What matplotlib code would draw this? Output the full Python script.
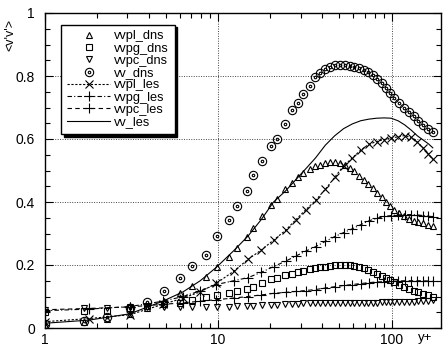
import numpy as np
import matplotlib
matplotlib.use("Agg")
import matplotlib.pyplot as plt
from matplotlib.path import Path
from matplotlib.ticker import LogLocator, MultipleLocator, NullFormatter, FixedLocator, FixedFormatter

plt.rcParams['font.family'] = ['Liberation Sans', 'DejaVu Sans']

# ---------------- data ----------------
dns_y = [1.0, 1.7, 2.3, 3.1, 3.9, 4.9, 6.0, 7.1, 8.5, 9.9, 11.5, 12.8, 14.6, 16.0,
         18.0, 20.2, 21.8, 24.4, 26.6, 28.8, 31.0, 33.8, 36.3, 38.9, 41.5, 44.5,
         47.5, 50.5, 54.0, 57.5, 61.0, 65.0, 69.0, 73.5, 78.0, 83.0, 88.0, 93.0,
         98.0, 104.0, 111.0, 118.0, 126.0, 134.0, 143.0, 152.0, 162.0, 173.0]

vv_dns = [0.012, 0.022, 0.036, 0.062, 0.082, 0.117, 0.160, 0.197, 0.233, 0.292,
          0.342, 0.387, 0.436, 0.485, 0.530, 0.579, 0.600, 0.647, 0.692, 0.713,
          0.742, 0.769, 0.796, 0.808, 0.822, 0.830, 0.834, 0.835, 0.834, 0.832,
          0.830, 0.826, 0.820, 0.812, 0.803, 0.790, 0.778, 0.762, 0.746, 0.730,
          0.714, 0.700, 0.686, 0.672, 0.656, 0.643, 0.632, 0.623]

vvpl_dns = [0.008, 0.018, 0.030, 0.045, 0.062, 0.085, 0.110, 0.134, 0.163, 0.195,
            0.226, 0.255, 0.290, 0.318, 0.355, 0.390, 0.410, 0.440, 0.460, 0.478,
            0.492, 0.505, 0.513, 0.518, 0.523, 0.526, 0.527, 0.525, 0.518, 0.508,
            0.497, 0.484, 0.470, 0.456, 0.443, 0.428, 0.415, 0.400, 0.388, 0.375,
            0.365, 0.355, 0.347, 0.341, 0.336, 0.332, 0.328, 0.325]

vvpg_dns = [0.052, 0.054, 0.055, 0.062, 0.070, 0.075, 0.078, 0.089, 0.098, 0.105,
            0.110, 0.117, 0.124, 0.131, 0.142, 0.155, 0.160, 0.168, 0.173, 0.178,
            0.182, 0.186, 0.190, 0.193, 0.195, 0.198, 0.200, 0.201, 0.201, 0.200,
            0.198, 0.195, 0.190, 0.185, 0.178, 0.172, 0.165, 0.158, 0.152, 0.145,
            0.137, 0.130, 0.124, 0.118, 0.113, 0.108, 0.104, 0.100]

vvpc_dns = [0.058, 0.062, 0.064, 0.066, 0.068, 0.068, 0.066, 0.066, 0.066, 0.067,
            0.068, 0.069, 0.070, 0.071, 0.072, 0.073, 0.074, 0.075, 0.076, 0.077,
            0.078, 0.078, 0.079, 0.079, 0.079, 0.080, 0.080, 0.080, 0.080, 0.080,
            0.080, 0.080, 0.080, 0.080, 0.080, 0.080, 0.081, 0.081, 0.081, 0.082,
            0.082, 0.083, 0.083, 0.084, 0.085, 0.086, 0.087, 0.088]

les_y = [1.0, 1.8, 3.1, 4.8, 6.3, 7.9, 9.8, 12.3, 14.9, 17.8, 20.9, 24.5, 28.0,
         32.0, 36.5, 41.5, 47.0, 53.0, 59.5, 66.5, 74.0, 82.0, 90.5, 99.5, 109.0,
         119.0, 130.0, 141.0, 152.0, 163.0, 173.0]

vvpl_les = [0.020, 0.030, 0.042, 0.075, 0.095, 0.115, 0.142, 0.180, 0.218, 0.248,
            0.279, 0.310, 0.343, 0.375, 0.405, 0.440, 0.478, 0.515, 0.540, 0.565,
            0.583, 0.592, 0.598, 0.603, 0.607, 0.611, 0.605, 0.590, 0.572, 0.553,
            0.535]

vvpg_les = [0.055, 0.060, 0.068, 0.085, 0.100, 0.118, 0.138, 0.150, 0.160, 0.177,
            0.195, 0.212, 0.228, 0.244, 0.258, 0.275, 0.290, 0.303, 0.315, 0.328,
            0.340, 0.348, 0.354, 0.357, 0.359, 0.360, 0.360, 0.359, 0.357, 0.355,
            0.353]

vvpc_les = [0.058, 0.062, 0.067, 0.075, 0.080, 0.085, 0.090, 0.095, 0.100, 0.105,
            0.110, 0.113, 0.116, 0.119, 0.122, 0.127, 0.131, 0.135, 0.138, 0.141,
            0.144, 0.146, 0.147, 0.148, 0.149, 0.150, 0.150, 0.150, 0.150, 0.149,
            0.148]

vv_les = [0.015, 0.025, 0.045, 0.085, 0.115, 0.150, 0.193, 0.245, 0.292, 0.345,
          0.400, 0.435, 0.470, 0.505, 0.540, 0.580, 0.610, 0.633, 0.648, 0.658,
          0.663, 0.666, 0.667, 0.666, 0.658, 0.645, 0.628, 0.610, 0.597, 0.585,
          0.572]

x_ticks = [1, 10, 100]
x_tick_labels = ["1", "10", "100"]
y_ticks = [0, 0.2, 0.4, 0.6, 0.8, 1.0]
y_tick_labels = ["0", "0.2", "0.4", "0.6", "0.8", "1"]

# ---------------- figure ----------------
W, H = 443, 349
fig = plt.figure(figsize=(W / 100, H / 100), dpi=100)
ax = fig.add_axes([44.5 / W, 21 / H, (441 - 44.5) / W, 315 / H])

# circle-with-dot marker
odot = Path.make_compound_path(Path.unit_circle(), Path.circle((0, 0), 0.3))

mk = dict(color='black', markerfacecolor='none', markeredgewidth=0.8, linestyle='none')
ax.plot(dns_y, vvpl_dns, marker='^', markersize=5, label='vvpl_dns', **mk)
ax.plot(dns_y, vvpg_dns, marker='s', markersize=5, label='vvpg_dns', **mk)
ax.plot(dns_y, vvpc_dns, marker='v', markersize=5, label='vvpc_dns', **mk)
ax.plot(dns_y, vv_dns, marker=odot, markersize=6, label='vv_dns', **mk)

ax.plot(les_y, vvpl_les, color='black', lw=0.8, linestyle=(0, (2.0, 1.5)),
        marker='x', markersize=6, markeredgewidth=0.8, label='vvpl_les')
ax.plot(les_y, vvpg_les, color='black', lw=0.8, linestyle=(0, (4, 2, 1, 2)),
        marker='+', markersize=7, markeredgewidth=0.8, label='vvpg_les')
ax.plot(les_y, vvpc_les, color='black', lw=0.8, linestyle=(0, (4, 3)),
        marker='+', markersize=7, markeredgewidth=0.8, label='vvpc_les')
ax.plot(les_y, vv_les, color='black', lw=0.8, linestyle='-', label='vv_les')

ax.set_xscale('log')
ax.set_xlim(1, 10 ** ((441 - 44.5) / 173.5))
ax.set_ylim(0, 1)

ax.xaxis.set_major_locator(FixedLocator(x_ticks))
ax.xaxis.set_major_formatter(FixedFormatter(x_tick_labels))
ax.xaxis.set_minor_locator(LogLocator(base=10, subs=np.arange(2, 10)))
ax.xaxis.set_minor_formatter(NullFormatter())
ax.yaxis.set_major_locator(FixedLocator(y_ticks))
ax.yaxis.set_major_formatter(FixedFormatter(y_tick_labels))
ax.yaxis.set_minor_locator(MultipleLocator(0.05))

ax.tick_params(which='both', direction='in', top=True, right=True, width=0.8)
ax.tick_params(which='major', length=6, labelsize=10)
ax.tick_params(which='minor', length=3.5)
ax.tick_params(axis='x', pad=3.5)
ax.tick_params(axis='y', pad=7)

ax.grid(True, which='major', color='#444444', linestyle=(0, (1, 1.5)), linewidth=0.7)
for s in ax.spines.values():
    s.set_linewidth(1.0)

leg = ax.legend(loc='upper left', bbox_to_anchor=(0.042, 0.963), numpoints=1,
                fontsize=9.2, handlelength=3.4, handletextpad=0.3,
                labelspacing=0.02, borderpad=0.45, frameon=True, fancybox=False,
                shadow={'color': 'black', 'alpha': 1.0}, edgecolor='black',
                framealpha=1.0, borderaxespad=0)
leg.get_frame().set_linewidth(1.0)

fig.text(10 / W, 1 - 35 / H, "<v'v'>", rotation=90, ha='center', va='center',
         fontsize=9)
fig.text(425 / W, 1 - 338 / H, "y+", ha='center', va='center', fontsize=9.5)

fig.savefig('out.png', dpi=100)
